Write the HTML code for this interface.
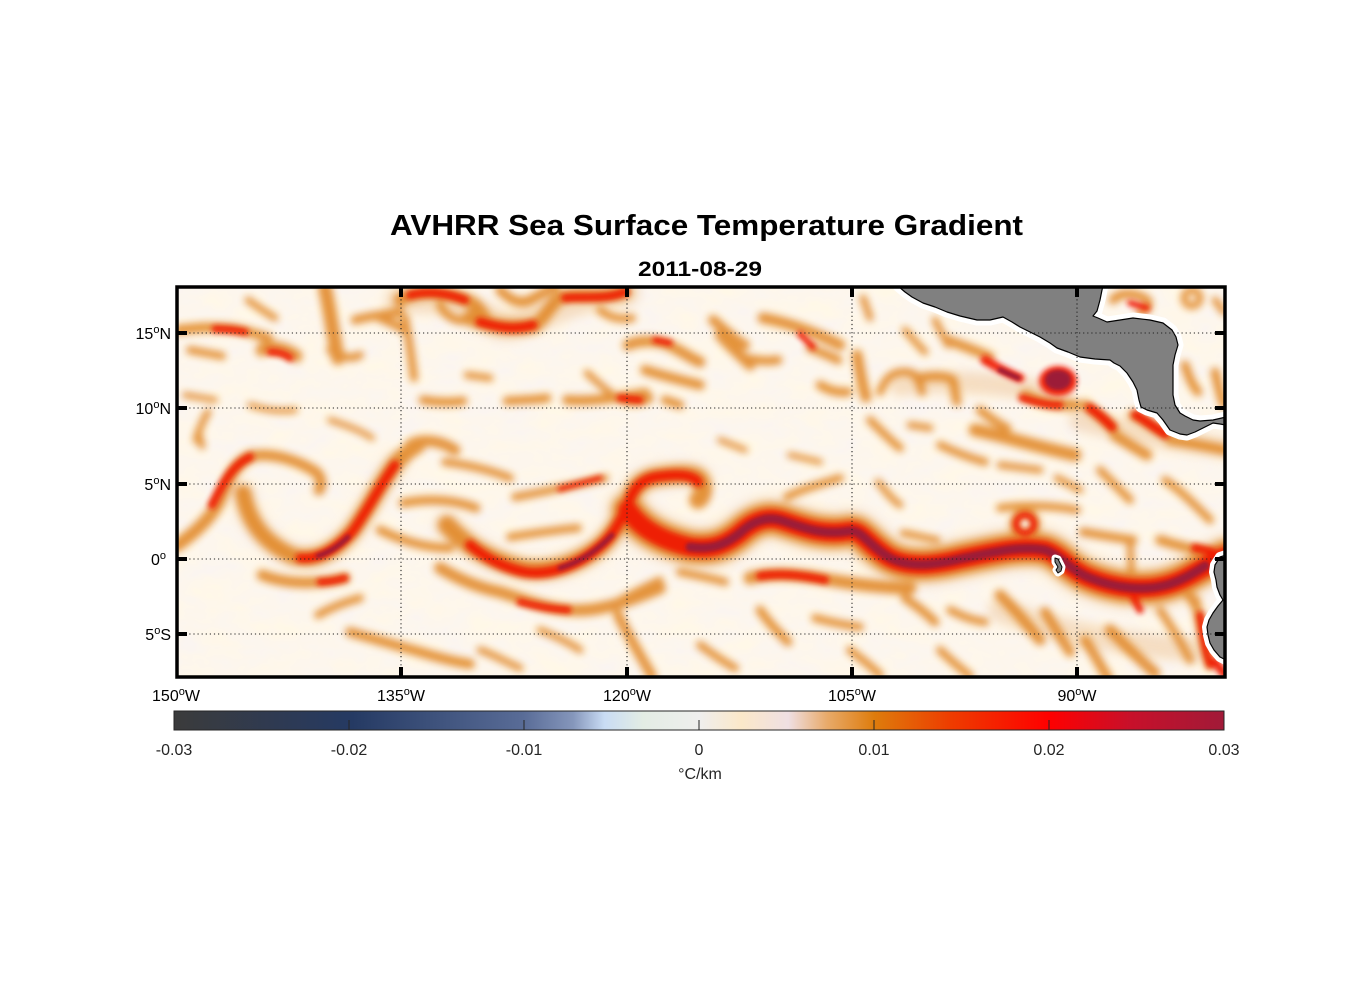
<!DOCTYPE html>
<html><head><meta charset="utf-8"><style>
html,body{margin:0;padding:0;background:#fff;}
svg{display:block;}
</style></head><body>
<svg width="1356" height="1000" viewBox="0 0 1356 1000" xmlns="http://www.w3.org/2000/svg" font-family="Liberation Sans, Arial, sans-serif">
<defs>
<clipPath id="mc"><rect x="177" y="287" width="1048" height="390"/></clipPath>
<filter id="b4" x="-20%" y="-20%" width="140%" height="140%"><feGaussianBlur stdDeviation="5"/></filter>
<filter id="b3" x="-20%" y="-20%" width="140%" height="140%"><feGaussianBlur stdDeviation="3.7"/></filter>
<filter id="b2" x="-20%" y="-20%" width="140%" height="140%"><feGaussianBlur stdDeviation="2.6"/></filter>
<filter id="b1" x="-20%" y="-20%" width="140%" height="140%"><feGaussianBlur stdDeviation="1.8"/></filter>
<filter id="tex" x="0" y="0" width="100%" height="100%">
<feTurbulence type="fractalNoise" baseFrequency="0.03 0.05" numOctaves="3" seed="7"/>
<feColorMatrix type="matrix" values="-0.07 0 0 0 1.02  -0.04 0 0 0 0.945  0.12 0 0 0 0.78  0 0 0 0 1"/>
</filter>
<linearGradient id="cb" x1="0" x2="1" y1="0" y2="0">
<stop offset="0" stop-color="#3b3b3b"/>
<stop offset="0.17" stop-color="#253a63"/>
<stop offset="0.333" stop-color="#596c97"/>
<stop offset="0.38" stop-color="#8596bb"/>
<stop offset="0.41" stop-color="#c9dcf4"/>
<stop offset="0.447" stop-color="#e3ede4"/>
<stop offset="0.5" stop-color="#efeeee"/>
<stop offset="0.54" stop-color="#fbe8c9"/>
<stop offset="0.585" stop-color="#efdfe3"/>
<stop offset="0.622" stop-color="#e8aa6a"/>
<stop offset="0.667" stop-color="#de7c0c"/>
<stop offset="0.74" stop-color="#ee3c00"/>
<stop offset="0.833" stop-color="#ff0000"/>
<stop offset="0.91" stop-color="#c8102a"/>
<stop offset="1" stop-color="#a11a38"/>
</linearGradient>
</defs>

<text x="390" y="235" font-size="29" font-weight="bold" fill="#000" textLength="633" lengthAdjust="spacingAndGlyphs">AVHRR Sea Surface Temperature Gradient</text>
<text x="638" y="276" font-size="21" font-weight="bold" fill="#000" textLength="124" lengthAdjust="spacingAndGlyphs">2011-08-29</text>

<g clip-path="url(#mc)">
<rect x="177" y="287" width="1048" height="390" fill="#f8ead9"/>
<rect x="177" y="287" width="1048" height="390" filter="url(#tex)"/>

<g fill="none" stroke="#efc9a0" stroke-linecap="round" stroke-linejoin="round" filter="url(#b4)" opacity="0.55">
<path d="M628,510 C640,528 660,540 690,547 C712,550 725,545 740,533 C752,522 765,516 780,520 C800,526 820,536 850,531 C862,530 868,545 890,558 C910,568 935,565 960,559 C990,553 1020,545 1045,550 C1060,555 1070,570 1090,578 C1115,588 1145,592 1170,584 C1190,578 1205,565 1226,556" stroke-width="44"/>
<path d="M447,525 C465,545 490,560 520,568 C545,574 575,565 598,548 C612,537 620,522 628,505 C632,490 640,480 655,477 C675,474 695,472 700,480" stroke-width="26"/>
<path d="M243,493 C248,520 262,542 293,556 C315,562 335,552 353,530 C368,510 382,480 396,463" stroke-width="24"/>
<path d="M400,300 C440,292 470,310 500,325 C530,330 560,295 625,292" stroke-width="30"/>
<path d="M900,385 C960,378 1010,385 1060,395" stroke-width="22"/>
<path d="M1080,420 C1120,430 1170,440 1225,448" stroke-width="22"/>
<path d="M1000,610 C1050,630 1120,645 1200,650" stroke-width="24"/>
</g>

<g fill="none" stroke="#e0821c" stroke-linecap="round" stroke-linejoin="round" filter="url(#b3)" opacity="0.85">
<path d="M178,330 C195,328 215,326 235,329 C248,331 258,335 268,338" stroke-width="10"/>
<path d="M190,350 C200,352 212,354 222,356" stroke-width="8"/>
<path d="M262,350 C270,345 285,348 296,356" stroke-width="13"/>
<path d="M248,300 C255,305 265,312 275,318" stroke-width="7"/>
<path d="M325,288 C330,310 333,335 338,358" stroke-width="14"/>
<path d="M330,350 C340,357 350,360 360,355" stroke-width="8"/>
<path d="M355,320 C370,316 385,314 400,312" stroke-width="9"/>
<path d="M405,318 C409,340 412,360 414,378" stroke-width="8"/>
<path d="M196,440 C199,430 203,420 208,412" stroke-width="7"/>
<path d="M250,405 C265,410 280,412 295,410" stroke-width="6"/>
<path d="M185,395 L215,400" stroke-width="6"/>
<path d="M330,420 C345,425 360,430 372,438" stroke-width="6"/>
<path d="M400,300 C420,290 440,292 460,298 C475,302 480,310 485,318" stroke-width="13"/>
<path d="M470,318 C490,325 510,330 535,325" stroke-width="15"/>
<path d="M535,325 C545,318 550,305 560,298 C575,292 600,300 625,292" stroke-width="13"/>
<path d="M500,290 C510,300 520,305 530,300 C540,295 548,290 555,287" stroke-width="10"/>
<path d="M600,310 C610,318 620,320 632,318" stroke-width="8"/>
<path d="M440,305 C445,315 455,322 465,320" stroke-width="8"/>
<path d="M380,318 C390,322 398,326 405,330" stroke-width="9"/>
<path d="M628,345 C640,340 655,340 668,345 C680,350 690,358 700,362" stroke-width="11"/>
<path d="M645,370 C660,375 680,380 700,385" stroke-width="10"/>
<path d="M620,398 C630,402 640,402 648,398" stroke-width="11"/>
<path d="M665,400 L680,405" stroke-width="9"/>
<path d="M720,335 C728,345 740,355 750,365" stroke-width="11"/>
<path d="M745,358 C755,360 765,362 778,360" stroke-width="9"/>
<path d="M713,320 C725,330 735,340 745,345" stroke-width="10"/>
<path d="M763,318 C785,322 810,330 840,345" stroke-width="11"/>
<path d="M810,348 C820,352 830,356 838,360" stroke-width="9"/>
<path d="M820,385 C828,390 838,393 848,392" stroke-width="9"/>
<path d="M857,355 C860,370 862,385 866,397" stroke-width="11"/>
<path d="M863,298 C866,306 868,312 870,318" stroke-width="7"/>
<path d="M567,400 C590,402 615,398 645,393" stroke-width="10"/>
<path d="M507,401 C520,400 535,400 547,398" stroke-width="9"/>
<path d="M423,400 C435,402 450,403 463,401" stroke-width="9"/>
<path d="M587,373 C595,380 603,388 612,394" stroke-width="7"/>
<path d="M467,375 L490,378" stroke-width="7"/>
<path d="M720,440 L745,450" stroke-width="6"/>
<path d="M790,455 L820,462" stroke-width="6"/>
<path d="M880,392 C885,380 890,372 905,372 C915,372 920,380 922,392" stroke-width="8"/>
<path d="M920,378 C930,376 945,375 953,380 C955,388 955,395 957,402" stroke-width="9"/>
<path d="M947,340 C960,345 975,350 990,357" stroke-width="10"/>
<path d="M975,430 C1000,435 1030,445 1075,455" stroke-width="13"/>
<path d="M980,410 C990,418 1000,425 1007,428" stroke-width="9"/>
<path d="M910,425 L930,428" stroke-width="7"/>
<path d="M870,420 C880,430 890,440 900,448" stroke-width="8"/>
<path d="M940,445 C955,452 970,458 985,462" stroke-width="8"/>
<path d="M1000,465 L1040,470" stroke-width="7"/>
<path d="M935,320 C940,330 945,340 948,345" stroke-width="7"/>
<path d="M905,330 C912,338 918,345 925,352" stroke-width="7"/>
<path d="M1025,395 C1040,402 1055,406 1075,405" stroke-width="11"/>
<path d="M1085,405 C1095,412 1105,420 1113,428" stroke-width="11"/>
<path d="M1115,435 C1125,442 1135,448 1147,455" stroke-width="11"/>
<path d="M1133,415 C1145,420 1155,428 1167,435" stroke-width="11"/>
<path d="M1170,440 C1185,442 1205,446 1225,450" stroke-width="10"/>
<path d="M1113,300 C1120,292 1135,292 1147,300 C1150,305 1148,310 1140,312" stroke-width="9"/>
<circle cx="1192" cy="298" r="8" stroke-width="7"/>
<path d="M1215,300 L1224,312" stroke-width="7"/>
<path d="M1185,365 C1188,375 1192,385 1198,392" stroke-width="9"/>
<path d="M1215,372 C1218,385 1220,395 1224,405" stroke-width="9"/>
<path d="M176,546 C192,535 210,520 220,500 C228,480 235,462 252,456" stroke-width="13"/>
<path d="M252,456 C275,452 300,462 316,472 C322,478 322,485 319,490" stroke-width="11"/>
<path d="M243,493 C248,520 262,542 293,556 C315,562 335,552 353,530 C368,510 382,480 396,463 C402,456 410,450 418,445" stroke-width="16"/>
<path d="M410,445 C420,438 440,440 455,450" stroke-width="11"/>
<path d="M198,432 L202,446" stroke-width="7"/>
<path d="M403,503 C430,498 455,500 476,508" stroke-width="9"/>
<path d="M445,462 C470,465 490,470 510,478" stroke-width="8"/>
<path d="M515,497 C540,493 570,486 605,478" stroke-width="8"/>
<path d="M510,537 C530,534 555,530 578,528" stroke-width="8"/>
<path d="M447,525 C465,545 490,560 520,568 C545,574 575,565 598,548 C612,537 620,522 628,505 C632,490 640,480 655,477 C675,474 695,472 700,480 C705,488 703,497 698,500" stroke-width="18"/>
<path d="M380,530 C400,540 425,548 450,548" stroke-width="9"/>
<path d="M262,575 C285,584 315,585 345,578" stroke-width="11"/>
<path d="M440,568 C460,580 480,588 500,592 C525,600 545,608 570,610 C595,612 620,605 660,588" stroke-width="12"/>
<path d="M350,632 C370,638 395,645 420,652 C440,658 455,662 470,664" stroke-width="10"/>
<path d="M318,615 C330,608 345,602 360,598" stroke-width="8"/>
<path d="M618,615 C628,635 640,655 652,676" stroke-width="10"/>
<path d="M540,630 C555,636 568,642 580,650" stroke-width="7"/>
<path d="M480,650 C495,655 505,662 520,668" stroke-width="7"/>
<path d="M628,510 C640,528 660,540 690,547 C712,550 725,545 740,533 C752,522 765,516 780,520 C800,526 820,536 850,531 C862,530 868,545 890,558 C910,568 935,565 960,559 C990,553 1020,545 1045,550 C1060,555 1070,570 1090,578 C1115,588 1145,592 1170,584 C1190,578 1205,565 1226,556" stroke-width="32"/>
<path d="M787,497 C800,490 820,484 840,478" stroke-width="8"/>
<path d="M903,533 C915,535 925,538 937,540" stroke-width="7"/>
<circle cx="1025" cy="524" r="11" stroke-width="9"/>
<path d="M1000,508 C1020,505 1050,505 1077,510" stroke-width="8"/>
<path d="M1083,532 C1100,535 1118,538 1133,540" stroke-width="9"/>
<path d="M1130,540 L1132,585" stroke-width="7"/>
<path d="M1160,540 C1175,545 1195,550 1213,552" stroke-width="10"/>
<path d="M1100,470 C1110,480 1120,490 1130,500" stroke-width="8"/>
<path d="M1165,480 C1180,490 1195,505 1210,520" stroke-width="8"/>
<path d="M1057,478 L1080,490" stroke-width="7"/>
<path d="M878,482 C885,490 890,498 900,505" stroke-width="7"/>
<path d="M620,600 C635,592 648,585 660,580" stroke-width="7"/>
<path d="M680,572 C695,575 710,578 725,582" stroke-width="8"/>
<path d="M750,578 C770,572 800,574 830,580 C860,585 890,588 910,588" stroke-width="13"/>
<path d="M760,610 C768,622 778,632 788,642" stroke-width="9"/>
<path d="M815,618 C830,622 845,625 860,627" stroke-width="8"/>
<path d="M905,598 C915,605 925,612 935,622" stroke-width="9"/>
<path d="M950,610 C960,615 970,620 985,622" stroke-width="8"/>
<path d="M1000,595 C1015,610 1028,625 1040,640" stroke-width="11"/>
<path d="M1045,612 C1055,628 1062,640 1070,652" stroke-width="10"/>
<path d="M1110,630 C1125,645 1140,660 1155,673" stroke-width="11"/>
<path d="M1085,640 C1095,655 1100,665 1108,678" stroke-width="10"/>
<path d="M1180,585 C1190,595 1195,605 1200,615" stroke-width="9"/>
<path d="M1195,600 C1200,620 1203,640 1210,665" stroke-width="10"/>
<path d="M700,645 C710,652 720,660 735,668" stroke-width="8"/>
<path d="M850,650 C860,658 870,665 880,675" stroke-width="8"/>
<path d="M940,650 C950,660 960,668 970,676" stroke-width="8"/>
<path d="M1160,610 C1170,625 1180,640 1190,660" stroke-width="8"/>
</g>

<g fill="none" stroke="#f01400" stroke-linecap="round" stroke-linejoin="round" filter="url(#b2)" opacity="0.92">
<path d="M212,505 C222,485 232,465 250,457" stroke-width="8"/>
<path d="M215,329 C225,329 235,330 245,332" stroke-width="7"/>
<path d="M270,352 C278,352 285,354 290,358" stroke-width="7"/>
<path d="M300,558 C318,560 335,550 352,532 C366,513 380,485 395,465" stroke-width="9"/>
<path d="M470,545 C485,558 505,568 525,572 C550,576 578,565 598,548 C612,537 620,522 628,505 C632,490 640,480 655,477 C675,474 692,474 698,482" stroke-width="10"/>
<path d="M628,510 C640,528 660,540 690,547 C712,550 725,545 740,533 C752,522 765,516 780,520 C800,526 820,536 850,531 C862,530 868,545 890,558 C910,568 935,565 960,559 C990,553 1020,545 1045,550 C1060,555 1070,570 1090,578 C1115,588 1145,592 1170,584 C1190,578 1205,565 1226,556" stroke-width="19"/>
<path d="M320,582 C330,582 338,580 345,578" stroke-width="7"/>
<path d="M520,602 C535,606 550,609 568,610" stroke-width="7"/>
<path d="M560,489 L600,478" stroke-width="5"/>
<path d="M410,295 C430,290 450,294 465,300" stroke-width="8"/>
<path d="M480,322 C500,328 515,330 533,325" stroke-width="9"/>
<path d="M565,298 C585,296 605,300 625,292" stroke-width="8"/>
<path d="M655,340 L670,343" stroke-width="6"/>
<path d="M620,398 L640,400" stroke-width="7"/>
<path d="M800,334 L813,347" stroke-width="6"/>
<path d="M985,360 C995,366 1005,372 1020,378" stroke-width="9"/>
<path d="M1022,398 C1035,402 1050,406 1060,405" stroke-width="7"/>
<path d="M1090,408 C1100,415 1105,420 1112,427" stroke-width="9"/>
<path d="M1136,415 C1145,420 1155,428 1165,434" stroke-width="9"/>
<path d="M1130,303 L1147,308" stroke-width="6"/>
<path d="M760,576 C780,573 800,575 825,580" stroke-width="8"/>
<path d="M1195,548 L1213,552" stroke-width="8"/>
<path d="M1200,615 C1203,635 1205,650 1210,665" stroke-width="7"/>
<path d="M1215,662 L1226,676" stroke-width="9"/>
<circle cx="1025" cy="524" r="9" stroke-width="6"/>
<path d="M1130,590 L1140,610" stroke-width="7"/>
<ellipse cx="1058" cy="381" rx="19" ry="15" fill="#f01400" stroke="none"/>
</g>

<g fill="none" stroke="#9c1a38" stroke-linecap="round" stroke-linejoin="round" filter="url(#b1)">
<path d="M690,547 C712,550 725,545 740,533 C752,522 765,516 780,520 C800,526 820,536 850,531 C862,530 868,545 890,558 C910,568 935,565 960,559 C990,553 1020,545 1045,550 C1060,555 1070,570 1090,578 C1115,588 1145,592 1170,584 C1185,579 1195,572 1205,566" stroke-width="9"/>
<path d="M318,556 C330,552 340,545 348,537" stroke-width="5"/>
<path d="M560,568 C580,562 598,550 612,535" stroke-width="5"/>
<path d="M1000,370 L1018,378" stroke-width="5"/>
<ellipse cx="1058" cy="380" rx="13" ry="10" fill="#9c1a38" stroke="none"/>
</g>

<g stroke-linejoin="round">
<path d="M898,286 L905,292 L912,297 L923,303 L935,307 L947,312 L960,316 L977,320 L990,320 L1003,317 L1012,322 L1020,327 L1030,332 L1040,337 L1050,343 L1057,348 L1068,352 L1080,357 L1095,359 L1110,360 L1114,363 L1120,366 L1127,373 L1133,382 L1137,390 L1139,400 L1141,407 L1147,410 L1157,413 L1163,420 L1170,430 L1180,434 L1187,435 L1195,432 L1205,427 L1213,423 L1220,424 L1226,425 L1226,417 L1213,420 L1200,421 L1193,420 L1185,416 L1180,413 L1175,405 L1173,395 L1173,380 L1173,365 L1175,355 L1178,345 L1176,337 L1172,330 L1163,323 L1150,320 L1133,318 L1120,320 L1107,322 L1098,318 L1093,316 L1097,311 L1100,300 L1102,290 L1103,286 Z" fill="#fff" stroke="#fff" stroke-width="11"/>
<path d="M1226,555 L1220,557 L1215,565 L1214,572 L1216,580 L1217,587 L1220,595 L1223,600 L1218,606 L1213,613 L1209,620 L1207,627 L1208,635 L1210,643 L1214,650 L1220,657 L1226,660 Z" fill="#fff" stroke="#fff" stroke-width="10"/>
<path d="M1055,558 L1058,559 L1062,567 L1061,571 L1058,573 L1056,570 L1058,567 L1055,562 Z" fill="#fff" stroke="#fff" stroke-width="7"/>

<path d="M898,286 L905,292 L912,297 L923,303 L935,307 L947,312 L960,316 L977,320 L990,320 L1003,317 L1012,322 L1020,327 L1030,332 L1040,337 L1050,343 L1057,348 L1068,352 L1080,357 L1095,359 L1110,360 L1114,363 L1120,366 L1127,373 L1133,382 L1137,390 L1139,400 L1141,407 L1147,410 L1157,413 L1163,420 L1170,430 L1180,434 L1187,435 L1195,432 L1205,427 L1213,423 L1220,424 L1226,425 L1226,417 L1213,420 L1200,421 L1193,420 L1185,416 L1180,413 L1175,405 L1173,395 L1173,380 L1173,365 L1175,355 L1178,345 L1176,337 L1172,330 L1163,323 L1150,320 L1133,318 L1120,320 L1107,322 L1098,318 L1093,316 L1097,311 L1100,300 L1102,290 L1103,286 Z" fill="#808080" stroke="#000" stroke-width="1.2"/>
<path d="M1226,555 L1220,557 L1215,565 L1214,572 L1216,580 L1217,587 L1220,595 L1223,600 L1218,606 L1213,613 L1209,620 L1207,627 L1208,635 L1210,643 L1214,650 L1220,657 L1226,660 Z" fill="#808080" stroke="#000" stroke-width="1.2"/>
<path d="M1055,558 L1058,559 L1062,567 L1061,571 L1058,573 L1056,570 L1058,567 L1055,562 Z" fill="#808080" stroke="#000" stroke-width="1"/>
</g>

<g stroke="#222" stroke-width="1.1" stroke-dasharray="1.2 2.9" fill="none">
<line x1="401" y1="287" x2="401" y2="677"/>
<line x1="627" y1="287" x2="627" y2="677"/>
<line x1="852" y1="287" x2="852" y2="677"/>
<line x1="1077" y1="287" x2="1077" y2="677"/>
<line x1="177" y1="333" x2="1225" y2="333"/>
<line x1="177" y1="408" x2="1225" y2="408"/>
<line x1="177" y1="484" x2="1225" y2="484"/>
<line x1="177" y1="559" x2="1225" y2="559"/>
<line x1="177" y1="634" x2="1225" y2="634"/>
</g>
</g>

<rect x="177" y="287" width="1048" height="390" fill="none" stroke="#000" stroke-width="3.5"/>
<g fill="#000">
<rect x="177" y="331" width="10" height="4"/><rect x="177" y="406" width="10" height="4"/><rect x="177" y="482" width="10" height="4"/><rect x="177" y="557" width="10" height="4"/><rect x="177" y="632" width="10" height="4"/>
<rect x="1215" y="331" width="10" height="4"/><rect x="1215" y="406" width="10" height="4"/><rect x="1215" y="482" width="10" height="4"/><rect x="1215" y="557" width="10" height="4"/><rect x="1215" y="632" width="10" height="4"/>
<rect x="399" y="667" width="4" height="10"/><rect x="625" y="667" width="4" height="10"/><rect x="850" y="667" width="4" height="10"/><rect x="1075" y="667" width="4" height="10"/>
<rect x="399" y="287" width="4" height="10"/><rect x="625" y="287" width="4" height="10"/><rect x="850" y="287" width="4" height="10"/><rect x="1075" y="287" width="4" height="10"/>
</g>

<g font-size="16" fill="#000" text-anchor="end">
<text x="171" y="339">15<tspan font-size="11" dy="-6">o</tspan><tspan dy="6">N</tspan></text>
<text x="171" y="414">10<tspan font-size="11" dy="-6">o</tspan><tspan dy="6">N</tspan></text>
<text x="171" y="490">5<tspan font-size="11" dy="-6">o</tspan><tspan dy="6">N</tspan></text>
<text x="166" y="565">0<tspan font-size="11" dy="-6">o</tspan></text>
<text x="171" y="640">5<tspan font-size="11" dy="-6">o</tspan><tspan dy="6">S</tspan></text>
</g>
<g font-size="16" fill="#000" text-anchor="middle">
<text x="176" y="701">150<tspan font-size="11" dy="-6">o</tspan><tspan dy="6">W</tspan></text>
<text x="401" y="701">135<tspan font-size="11" dy="-6">o</tspan><tspan dy="6">W</tspan></text>
<text x="627" y="701">120<tspan font-size="11" dy="-6">o</tspan><tspan dy="6">W</tspan></text>
<text x="852" y="701">105<tspan font-size="11" dy="-6">o</tspan><tspan dy="6">W</tspan></text>
<text x="1077" y="701">90<tspan font-size="11" dy="-6">o</tspan><tspan dy="6">W</tspan></text>
</g>

<rect x="174" y="711" width="1050" height="19" fill="url(#cb)" stroke="#262626" stroke-width="1"/>
<g stroke="#262626" stroke-width="1">
<line x1="349" y1="720" x2="349" y2="730"/><line x1="524" y1="720" x2="524" y2="730"/><line x1="699" y1="720" x2="699" y2="730"/><line x1="874" y1="720" x2="874" y2="730"/><line x1="1049" y1="720" x2="1049" y2="730"/>
</g>
<g font-size="16" fill="#262626" text-anchor="middle">
<text x="174" y="755">-0.03</text>
<text x="349" y="755">-0.02</text>
<text x="524" y="755">-0.01</text>
<text x="699" y="755">0</text>
<text x="874" y="755">0.01</text>
<text x="1049" y="755">0.02</text>
<text x="1224" y="755">0.03</text>
<text x="700" y="779">°C/km</text>
</g>
</svg>
</body></html>
